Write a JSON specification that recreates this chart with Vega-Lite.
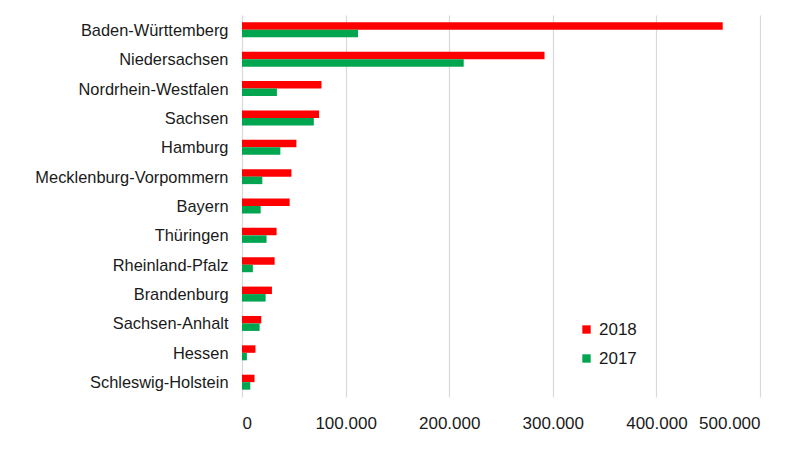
{
  "$schema": "https://vega.github.io/schema/vega-lite/v6.json",
  "autosize": {"type": "none"},
  "padding": {"left": 242, "top": 15, "right": 48, "bottom": 53},
  "width": 518,
  "height": 382,
  "background": "white",
  "config": {
    "font": "Liberation Sans",
    "view": {"stroke": null},
    "locale": {"number": {"decimal": ",", "thousands": ".", "grouping": [3], "currency": ["", " €"]}}
  },
  "data": {
    "values": [
      {"state": "Baden-Württemberg", "year": "2018", "value": 464000},
      {"state": "Baden-Württemberg", "year": "2017", "value": 112000},
      {"state": "Niedersachsen", "year": "2018", "value": 292000},
      {"state": "Niedersachsen", "year": "2017", "value": 214000},
      {"state": "Nordrhein-Westfalen", "year": "2018", "value": 76700},
      {"state": "Nordrhein-Westfalen", "year": "2017", "value": 33700},
      {"state": "Sachsen", "year": "2018", "value": 74400},
      {"state": "Sachsen", "year": "2017", "value": 69300},
      {"state": "Hamburg", "year": "2018", "value": 52500},
      {"state": "Hamburg", "year": "2017", "value": 37000},
      {"state": "Mecklenburg-Vorpommern", "year": "2018", "value": 47700},
      {"state": "Mecklenburg-Vorpommern", "year": "2017", "value": 19600},
      {"state": "Bayern", "year": "2018", "value": 46000},
      {"state": "Bayern", "year": "2017", "value": 18000},
      {"state": "Thüringen", "year": "2018", "value": 33400},
      {"state": "Thüringen", "year": "2017", "value": 23700},
      {"state": "Rheinland-Pfalz", "year": "2018", "value": 31500},
      {"state": "Rheinland-Pfalz", "year": "2017", "value": 10500},
      {"state": "Brandenburg", "year": "2018", "value": 28900},
      {"state": "Brandenburg", "year": "2017", "value": 22800},
      {"state": "Sachsen-Anhalt", "year": "2018", "value": 18600},
      {"state": "Sachsen-Anhalt", "year": "2017", "value": 17000},
      {"state": "Hessen", "year": "2018", "value": 13000},
      {"state": "Hessen", "year": "2017", "value": 4700},
      {"state": "Schleswig-Holstein", "year": "2018", "value": 12100},
      {"state": "Schleswig-Holstein", "year": "2017", "value": 8000}
    ]
  },
  "mark": {"type": "bar"},
  "encoding": {
    "y": {
      "field": "state",
      "type": "nominal",
      "sort": null,
      "scale": {"paddingInner": 0.49, "paddingOuter": 0.25},
      "axis": {
        "title": null,
        "domain": false,
        "ticks": false,
        "labelFontSize": 16.4,
        "labelColor": "#1a1a1a",
        "labelPadding": 14,
        "labelOffset": 1,
        "labelLimit": 400
      }
    },
    "yOffset": {
      "field": "year",
      "type": "nominal",
      "sort": ["2018", "2017"],
      "scale": {"paddingInner": 0, "paddingOuter": 0}
    },
    "x": {
      "field": "value",
      "type": "quantitative",
      "scale": {"domain": [0, 500000], "nice": false},
      "axis": {
        "title": null,
        "values": [0, 100000, 200000, 300000, 400000, 500000],
        "format": ",d",
        "domain": false,
        "ticks": false,
        "grid": true,
        "gridColor": "#d9d9d9",
        "gridWidth": 1.2,
        "labelFontSize": 17,
        "labelColor": "#1a1a1a",
        "labelPadding": 18
      }
    },
    "color": {
      "field": "year",
      "type": "nominal",
      "sort": ["2018", "2017"],
      "scale": {"domain": ["2018", "2017"], "range": ["#FF0000", "#00A550"]},
      "legend": {
        "title": null,
        "orient": "none",
        "legendX": 336,
        "legendY": 306,
        "symbolType": "square",
        "symbolSize": 70,
        "labelFontSize": 17,
        "labelColor": "#1a1a1a",
        "rowPadding": 11,
        "labelOffset": 4
      }
    }
  }
}
